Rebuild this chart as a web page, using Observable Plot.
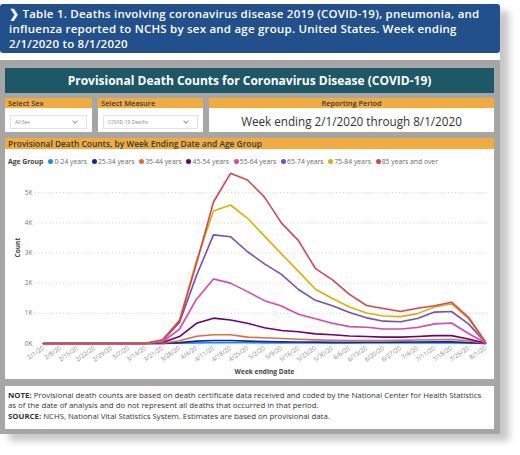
<!DOCTYPE html>
<html>
<head>
<meta charset="utf-8">
<script src="https://cdn.jsdelivr.net/npm/d3@7"></script>
<script src="https://cdn.jsdelivr.net/npm/@observablehq/plot@0.6"></script>
<style>
  html, body { margin: 0; padding: 0; background: #fff; }
  body { width: 520px; height: 455px; position: relative; overflow: hidden; font-family: "Open Sans", "Noto Sans", sans-serif; }
  .abs { position: absolute; box-sizing: border-box; }
  #shadow { left: 0; top: 4px; width: 500px; height: 430px; box-shadow: 9px 7px 7px rgba(0,0,0,0.22); }
  #hdr { left: 0; top: 4px; width: 500px; height: 49px; background: #22508c; border-radius: 3px; color: #fff;
         font-size: 11.5px; letter-spacing: 0.22px; font-weight: 600; line-height: 15.4px; padding: 1.5px 0 0 9px; white-space: nowrap; }
  #panel { left: 0; top: 60px; width: 500px; height: 374px; background: #a6a6a6; }
  #teal { left: 5px; top: 68px; width: 489px; height: 25px; background: #1e5866; color: #fff; font-weight: 700;
          font-size: 12px; line-height: 25px; text-align: center; white-space: nowrap; }
  .oh { top: 98px; height: 10px; background: #f1ac3d; color: #3a3a3a; font-size: 7.4px; font-weight: 600; line-height: 10px; padding-left: 3px; white-space: nowrap; }
  .wb { top: 108px; height: 24px; background: #fff; }
  .dd { top: 115px; height: 14px; border: 1px solid #e2e2e2; background: #fff; font-size: 5px; color: #8a8a8a; line-height: 12px; padding-left: 4px; }
  .chev { position: absolute; right: 9px; top: 3px; width: 3px; height: 3px; border-right: 0.8px solid #999; border-bottom: 0.8px solid #999; transform: rotate(45deg); }
  #period { font-size: 11.7px; color: #333; text-align: center; line-height: 26px; white-space: nowrap; }
  #sub { left: 5px; top: 138px; width: 489px; height: 11px; background: #f1ac3d; color: #3a3a3a; font-size: 8.4px; font-weight: 600; line-height: 11px; padding-left: 3px; white-space: nowrap; }
  #chartbg { left: 5px; top: 149px; width: 489px; height: 230px; background: #fff; }
  #legend { left: 8px; top: 156px; height: 10px; display: flex; align-items: center; font-size: 6.8px; color: #6a6a6a; white-space: nowrap; }
  #legend .ttl { font-weight: 700; color: #444; margin-right: 5px; }
  #legend .it { display: flex; align-items: center; margin-right: 4.6px; }
  #legend .dot { width: 5px; height: 5px; border-radius: 50%; margin-right: 1.2px; }
  #plot { left: 5px; top: 166px; }
  #note { left: 5px; top: 386px; width: 489px; height: 43px; background: #fff; font-size: 7.8px; color: #333; line-height: 10.6px; padding: 3.5px 0 0 3px; white-space: nowrap; }
</style>
</head>
<body>
<div id="shadow" class="abs"></div>
<div id="hdr" class="abs">❯ Table 1. Deaths involving coronavirus disease 2019 (COVID-19), pneumonia, and<br>influenza reported to NCHS by sex and age group. United States. Week ending<br>2/1/2020 to 8/1/2020</div>
<div id="panel" class="abs"></div>
<div id="teal" class="abs">Provisional Death Counts for Coronavirus Disease (COVID-19)</div>
<div class="abs oh" style="left:5px;width:87px;">Select Sex</div>
<div class="abs oh" style="left:98px;width:105px;">Select Measure</div>
<div class="abs oh" style="left:209px;width:285px;text-align:center;padding-left:0;">Reporting Period</div>
<div class="abs wb" style="left:5px;width:87px;"></div>
<div class="abs wb" style="left:98px;width:105px;"></div>
<div class="abs wb" id="period" style="left:209px;width:285px;">Week ending 2/1/2020 through 8/1/2020</div>
<div class="abs dd" style="left:10px;width:77px;">All Sex<span class="chev"></span></div>
<div class="abs dd" style="left:103px;width:95px;">COVID-19 Deaths<span class="chev"></span></div>
<div id="sub" class="abs">Provisional Death Counts, by Week Ending Date and Age Group</div>
<div id="chartbg" class="abs"></div>
<div id="legend" class="abs"></div>
<div id="plot" class="abs"></div>
<div id="note" class="abs"><b>NOTE:</b> Provisional death counts are based on death certificate data received and coded by the National Center for Health Statistics<br>as of the date of analysis and do not represent all deaths that occurred in that period.<br><b>SOURCE:</b> NCHS, National Vital Statistics System. Estimates are based on provisional data.</div>
<script>
const weeks = ["2/1/20","2/8/20","2/15/20","2/22/20","2/29/20","3/7/20","3/14/20","3/21/20","3/28/20","4/4/20","4/11/20","4/18/20","4/25/20","5/2/20","5/9/20","5/16/20","5/23/20","5/30/20","6/6/20","6/13/20","6/20/20","6/27/20","7/4/20","7/11/20","7/18/20","7/25/20","8/1/20"];
const ageGroups = ["0-24 years","25-34 years","35-44 years","45-54 years","55-64 years","65-74 years","75-84 years","85 years and over"];
const ageColors = ["#118DFF","#12239E","#E66C37","#6B007B","#E044A7","#744EC2","#D9B300","#D64550"];
const age0_24  = [0,0,0,0,0,0,0,1,8,20,28,28,24,20,18,16,15,14,14,15,16,18,20,22,22,14,1];
const age25_34 = [0,0,0,0,0,0,0,4,30,80,100,100,80,65,55,50,45,42,40,40,42,45,50,55,55,35,2];
const age35_44 = [0,0,0,0,0,0,1,12,90,240,290,290,210,190,165,140,120,110,100,100,100,105,115,125,130,90,4];
const age45_54 = [0,0,0,0,0,0,2,30,230,670,840,780,670,520,430,390,320,290,250,230,210,210,230,260,260,150,8];
const age55_64 = [0,0,0,0,0,0,4,50,480,1470,2140,2000,1720,1420,1240,970,820,670,560,540,480,480,530,650,680,330,15];
const age65_74 = [0,0,0,0,0,0,6,80,700,2250,3600,3540,3040,2640,2290,1790,1430,1250,1030,850,740,720,830,1040,1060,650,30];
const age75_84 = [0,0,0,0,0,0,8,100,780,2750,4390,4590,4150,3560,2970,2390,1800,1490,1210,1010,910,890,990,1210,1310,820,40];
const age85up  = [0,0,0,0,0,0,10,120,750,2650,4690,5640,5420,4850,3990,3410,2480,2110,1630,1260,1160,1060,1170,1250,1370,870,50];
const yTicks = [0,1000,2000,3000,4000,5000];

const seriesList = [age0_24, age25_34, age35_44, age45_54, age55_64, age65_74, age75_84, age85up];
const rows = [];
seriesList.forEach((vals, i) => vals.forEach((v, j) => rows.push({age: ageGroups[i], week: weeks[j], count: v})));

// legend
const lg = document.getElementById("legend");
lg.innerHTML = '<span class="ttl">Age Group</span>' + ageGroups.map((a, i) =>
  `<span class="it"><span class="dot" style="background:${ageColors[i]}"></span>${a}</span>`).join("");

const chart = Plot.plot({
  width: 488, height: 213,
  marginLeft: 38, marginRight: 8, marginTop: 5, marginBottom: 36,
  style: {fontFamily: "Open Sans, Noto Sans, sans-serif", background: "transparent", overflow: "visible"},
  x: {type: "point", domain: weeks, padding: 0},
  y: {domain: [0, 5700]},
  color: {domain: ageGroups, range: ageColors},
  marks: [
    Plot.ruleY(yTicks.slice(1), {stroke: "#c4c4c4", strokeWidth: 0.8, strokeDasharray: "1,2.5", insetLeft: -8, insetRight: -5}),
    Plot.axisY({ticks: yTicks, tickFormat: d => d / 1000 + "K", tickSize: 0, tickPadding: 11, fontSize: 6.5, color: "#7a7a7a", label: null}),
    Plot.axisX({tickRotate: -35, tickSize: 0, tickPadding: 4, fontSize: 6.2, color: "#8a8a8a", label: null}),
    Plot.line(rows, {x: "week", y: "count", z: "age", stroke: "age", strokeWidth: 1.6}),
    Plot.text(["Count"], {frameAnchor: "left", rotate: -90, dx: -26, fontWeight: "bold", fontSize: 6.6, fill: "#444"}),
    Plot.text(["Week ending Date"], {frameAnchor: "bottom", dy: 30, fontWeight: "bold", fontSize: 6.6, fill: "#444"})
  ]
});
document.getElementById("plot").appendChild(chart);
</script>
</body>
</html>
